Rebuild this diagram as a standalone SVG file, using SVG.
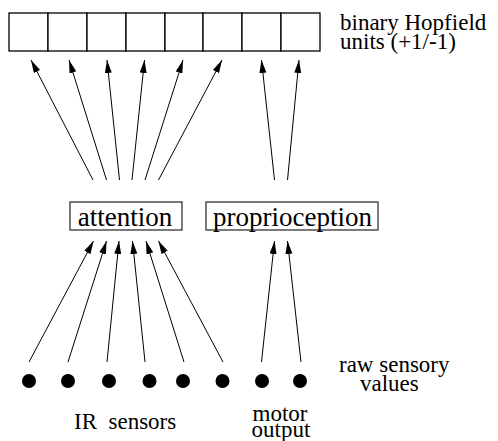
<svg xmlns="http://www.w3.org/2000/svg" width="498" height="441" viewBox="0 0 498 441">
<style>
.t{font-family:'Liberation Serif','Times New Roman',Times,serif;fill:#000}
.lbl{font-size:23px}
.big{font-size:27px}
.unit{fill:#fff;stroke:#000;stroke-width:1.3}
.mod{fill:#fff;stroke:#222;stroke-width:1.2}
.arr{stroke:#000;stroke-width:1;fill:none;marker-end:url(#ah)}
</style>
<defs>
<marker id="ah" markerUnits="userSpaceOnUse" markerWidth="14" markerHeight="8" refX="13" refY="3.5" orient="auto" viewBox="0 0 14 8">
<path d="M0,0 L13,3.5 L0,7 Z" fill="#000"/>
</marker>
</defs>
<g id="hopfield-units">
<rect class="unit" x="9" y="13" width="39" height="38"/>
<rect class="unit" x="48" y="13" width="39" height="38"/>
<rect class="unit" x="87" y="13" width="39" height="38"/>
<rect class="unit" x="126" y="13" width="39" height="38"/>
<rect class="unit" x="165" y="13" width="38" height="38"/>
<rect class="unit" x="203" y="13" width="39" height="38"/>
<rect class="unit" x="242" y="13" width="39" height="38"/>
<rect class="unit" x="281" y="13" width="39" height="38"/>
</g>
<g id="hopfield-label" font-family="Liberation Serif, serif">
<text class="t lbl" x="340" y="30">binary Hopfield</text>
<text class="t lbl" x="340" y="49">units (+1/-1)</text>
</g>
<g id="attention">
<rect class="mod" x="70" y="202" width="112" height="28"/>
<text class="t big" x="125" y="226" text-anchor="middle">attention</text>
</g>
<g id="proprioception">
<rect class="mod" x="206" y="202" width="172" height="28"/>
<text class="t big" x="292.5" y="226" text-anchor="middle">proprioception</text>
</g>
<g id="sensors">
<circle cx="29" cy="381" r="7"/>
<circle cx="68" cy="381" r="7"/>
<circle cx="109" cy="381" r="7"/>
<circle cx="149.5" cy="381" r="7"/>
<circle cx="183" cy="381" r="7"/>
<circle cx="222.5" cy="381" r="7"/>
<circle cx="262" cy="381" r="7"/>
<circle cx="300" cy="381" r="7"/>
</g>
<g id="sensor-labels">
<text class="t lbl" x="339" y="372">raw sensory</text>
<text class="t lbl" x="360" y="391">values</text>
<text class="t lbl" x="74" y="429" xml:space="preserve">IR  sensors</text>
<text class="t lbl" x="280" y="420.5" text-anchor="middle">motor</text>
<text class="t lbl" x="281" y="437" text-anchor="middle">output</text>
</g>
<g id="connectors">
<line class="arr" x1="93" y1="180" x2="31" y2="60"/>
<line class="arr" x1="106.5" y1="180" x2="69" y2="60"/>
<line class="arr" x1="119.5" y1="180" x2="107" y2="60"/>
<line class="arr" x1="132" y1="180" x2="144.5" y2="60"/>
<line class="arr" x1="145" y1="180" x2="183" y2="60"/>
<line class="arr" x1="158.5" y1="180" x2="222" y2="60"/>
<line class="arr" x1="274.5" y1="180" x2="261.5" y2="60"/>
<line class="arr" x1="287.5" y1="180" x2="299" y2="60"/>
<line class="arr" x1="29" y1="362" x2="93.5" y2="241"/>
<line class="arr" x1="68" y1="362" x2="106.5" y2="241"/>
<line class="arr" x1="107" y1="362" x2="119" y2="241"/>
<line class="arr" x1="145" y1="362" x2="132.5" y2="241"/>
<line class="arr" x1="184" y1="362" x2="146" y2="241"/>
<line class="arr" x1="223" y1="362" x2="158.5" y2="241"/>
<line class="arr" x1="261.5" y1="362" x2="274.5" y2="241"/>
<line class="arr" x1="301" y1="362" x2="287.5" y2="241"/>
</g>
</svg>
